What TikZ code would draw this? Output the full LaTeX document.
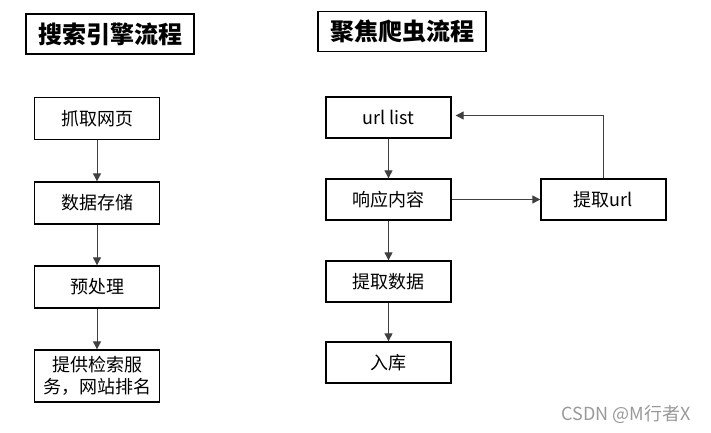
\documentclass[tikz,border=0pt]{standalone}
\usepackage{fontspec}
\setmainfont{Noto Sans CJK SC}
\usetikzlibrary{calc}
\usetikzlibrary{arrows.meta}
\tikzset{
	box/.style={draw,line width=1.3pt,minimum width=125pt,minimum height=42pt,inner sep=2pt,align=center,font=\fontsize{18}{22}\selectfont},
	titlebox/.style={draw,line width=1.3pt,minimum width=168pt,minimum height=40pt,inner sep=2pt,font=\fontsize{24}{28}\selectfont\bfseries},
	flow/.style={-{Triangle[length=8pt,width=8pt]},line width=0.9pt,black!75},
}
\begin{document}
\begin{tikzpicture}[x=1pt,y=-1pt]
		\useasboundingbox (0,0) rectangle (711,433);
		% search engine
		\node[titlebox] (t1) at (110,34) {搜索引擎流程};
		\node[box] (crawl) at (97,118.5) {抓取网页};
		\node[box] (store) at (97,203) {数据存储};
		\node[box] (prep) at (97,287) {预处理};
		\node[box,minimum height=52pt] (serve) at (97,376) {提供检索服\\务，网站排名};
		\draw[flow] (crawl) -- (store);
		\draw[flow] (store) -- (prep);
		\draw[flow] (prep) -- (serve);
		% focused crawler
		\node[titlebox] (t2) at (402,31.5) {聚焦爬虫流程};
		\node[box,minimum height=41pt] (urls) at (388.5,117.5) {url list};
		\node[box,minimum height=41pt] (resp) at (388.5,199.5) {响应内容};
		\node[box,minimum height=41pt] (data) at (388.5,281.5) {提取数据};
		\node[box,minimum height=41pt] (save) at (388.5,362.5) {入库};
		\node[box,minimum height=41pt] (ext) at (603.5,199.5) {提取url};
		\draw[flow] (urls) -- (resp);
		\draw[flow] (resp) -- (data);
		\draw[flow] (data) -- (save);
		\draw[flow] (resp) -- (ext);
		\draw[flow,shorten >=4pt] (ext.north) |- ($ (urls.east) + (0,-2) $);
		\node[black!40,font=\fontsize{18}{22}\selectfont] (mark) at (626,414) {CSDN @M行者X};
	\end{tikzpicture}
\end{document}
